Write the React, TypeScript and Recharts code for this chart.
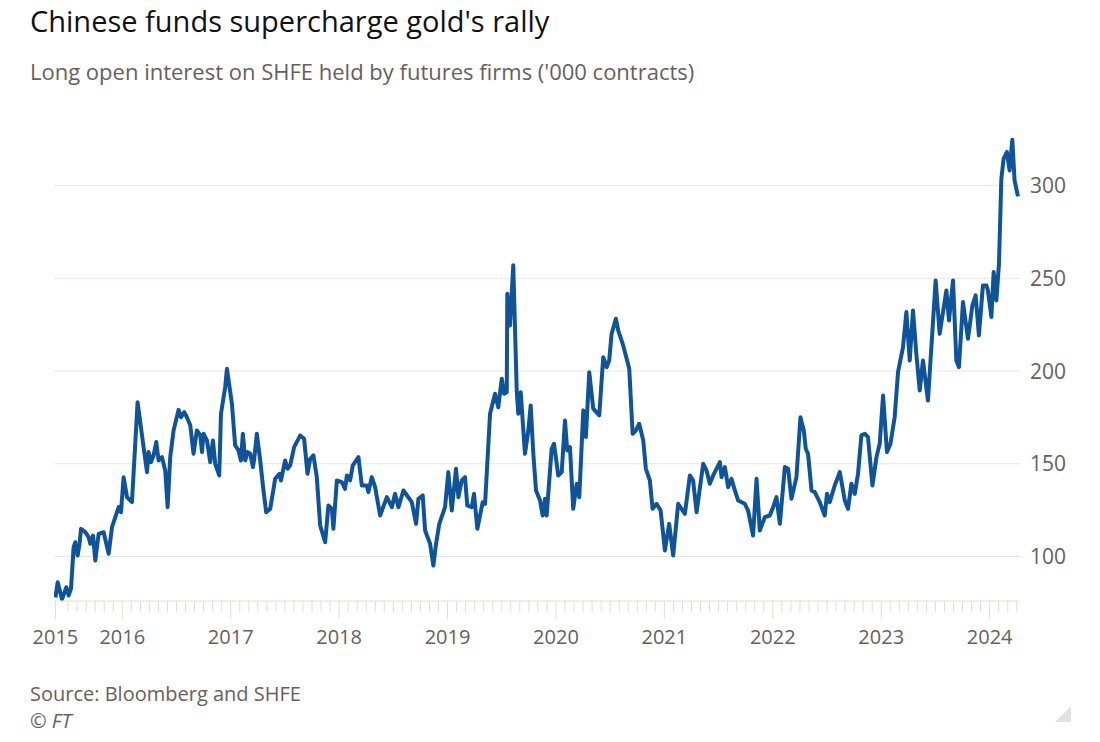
import { Line, LineChart, ReferenceLine, XAxis, YAxis } from "recharts";

// decimal years
const dates = [
  2015.383, 2015.404, 2015.444, 2015.484, 2015.505, 2015.527, 2015.551, 2015.567, 2015.588, 2015.606,
  2015.619, 2015.659, 2015.689, 2015.705, 2015.73, 2015.751, 2015.782, 2015.828, 2015.874, 2015.905,
  2015.966, 2015.988, 2016.012, 2016.043, 2016.089, 2016.141, 2016.196, 2016.228, 2016.242, 2016.265,
  2016.288, 2016.313, 2016.335, 2016.366, 2016.396, 2016.418, 2016.442, 2016.473, 2016.519, 2016.541,
  2016.571, 2016.596, 2016.627, 2016.657, 2016.688, 2016.719, 2016.735, 2016.749, 2016.781, 2016.811,
  2016.836, 2016.857, 2016.894, 2016.91, 2016.949, 2016.965, 2017.011, 2017.041, 2017.072, 2017.094,
  2017.112, 2017.134, 2017.155, 2017.18, 2017.205, 2017.217, 2017.241, 2017.272, 2017.302, 2017.327,
  2017.364, 2017.41, 2017.45, 2017.463, 2017.502, 2017.524, 2017.548, 2017.585, 2017.641, 2017.677,
  2017.708, 2017.733, 2017.763, 2017.794, 2017.825, 2017.871, 2017.901, 2017.933, 2017.947, 2017.979,
  2018.025, 2018.055, 2018.071, 2018.101, 2018.126, 2018.178, 2018.209, 2018.255, 2018.27, 2018.301,
  2018.332, 2018.378, 2018.44, 2018.486, 2018.516, 2018.547, 2018.593, 2018.67, 2018.71, 2018.731,
  2018.771, 2018.793, 2018.839, 2018.869, 2018.894, 2018.924, 2018.977, 2019.007, 2019.039, 2019.078,
  2019.1, 2019.131, 2019.161, 2019.182, 2019.223, 2019.244, 2019.275, 2019.324, 2019.346, 2019.392,
  2019.438, 2019.468, 2019.5, 2019.521, 2019.546, 2019.551, 2019.576, 2019.606, 2019.638, 2019.652,
  2019.675, 2019.714, 2019.745, 2019.767, 2019.791, 2019.816, 2019.853, 2019.877, 2019.899, 2019.914,
  2019.96, 2019.982, 2020.021, 2020.053, 2020.083, 2020.104, 2020.129, 2020.159, 2020.191, 2020.215,
  2020.252, 2020.276, 2020.307, 2020.344, 2020.399, 2020.436, 2020.467, 2020.491, 2020.513, 2020.553,
  2020.574, 2020.62, 2020.676, 2020.707, 2020.737, 2020.768, 2020.805, 2020.829, 2020.866, 2020.891,
  2020.928, 2020.965, 2021.005, 2021.044, 2021.081, 2021.127, 2021.189, 2021.235, 2021.265, 2021.297,
  2021.358, 2021.389, 2021.419, 2021.45, 2021.512, 2021.527, 2021.558, 2021.588, 2021.619, 2021.65,
  2021.68, 2021.742, 2021.772, 2021.818, 2021.85, 2021.88, 2021.926, 2021.972, 2022.003, 2022.034,
  2022.065, 2022.111, 2022.141, 2022.172, 2022.218, 2022.255, 2022.286, 2022.304, 2022.325, 2022.357,
  2022.387, 2022.433, 2022.479, 2022.5, 2022.525, 2022.571, 2022.618, 2022.664, 2022.694, 2022.725,
  2022.756, 2022.786, 2022.817, 2022.848, 2022.878, 2022.919, 2022.956, 2022.986, 2023.017, 2023.053,
  2023.085, 2023.124, 2023.155, 2023.201, 2023.232, 2023.263, 2023.293, 2023.324, 2023.355, 2023.385,
  2023.431, 2023.502, 2023.539, 2023.601, 2023.625, 2023.662, 2023.693, 2023.717, 2023.754, 2023.8,
  2023.841, 2023.871, 2023.901, 2023.938, 2023.97, 2023.984, 2024.016, 2024.037, 2024.062, 2024.086,
  2024.108, 2024.129, 2024.159, 2024.184, 2024.209, 2024.23, 2024.261,
];

// long open interest, '000 contracts
const values = [
  77.9, 86.1, 77.0, 83.4, 79.0, 82.7, 105.0, 107.7, 100.5, 107.0,
  114.9, 113.1, 110.4, 106.9, 111.3, 97.8, 112.2, 113.1, 101.5, 115.8,
  126.6, 123.9, 142.8, 132.0, 129.3, 183.2, 159.0, 145.5, 156.3, 150.9,
  154.5, 161.7, 151.8, 153.6, 146.4, 126.6, 153.6, 168.0, 179.1, 175.1,
  177.8, 175.1, 170.7, 155.4, 168.0, 165.3, 156.3, 166.2, 162.6, 150.9,
  162.6, 150.0, 143.7, 177.0, 191.3, 201.2, 182.4, 159.9, 157.2, 151.8,
  166.2, 151.8, 156.3, 155.4, 148.2, 152.7, 166.2, 151.8, 135.6, 123.9,
  125.7, 141.9, 144.6, 141.0, 151.8, 147.3, 149.1, 159.0, 165.3, 163.5,
  144.6, 152.7, 154.5, 142.8, 116.7, 107.7, 127.5, 125.7, 114.9, 141.0,
  140.1, 136.5, 143.7, 141.0, 149.1, 153.6, 138.3, 138.3, 134.7, 142.8,
  137.4, 122.1, 132.0, 126.6, 133.8, 126.6, 135.6, 129.3, 117.6, 131.1,
  132.9, 114.0, 106.9, 95.1, 106.9, 117.6, 126.6, 145.5, 124.8, 147.3,
  132.0, 141.0, 142.8, 127.5, 126.6, 133.8, 114.9, 129.3, 128.4, 177.0,
  187.8, 180.5, 195.9, 187.8, 188.6, 241.7, 224.6, 257.0, 189.5, 177.0,
  188.6, 155.4, 168.0, 181.4, 155.4, 135.6, 130.2, 122.1, 131.1, 122.1,
  158.1, 160.8, 143.7, 145.5, 173.4, 157.2, 159.0, 125.7, 139.2, 132.0,
  178.8, 164.4, 199.4, 179.7, 176.1, 207.5, 202.1, 205.7, 220.1, 228.2,
  221.9, 213.8, 201.2, 166.2, 168.0, 171.6, 162.6, 147.3, 141.0, 125.7,
  128.4, 124.8, 103.2, 117.6, 100.5, 128.4, 123.0, 143.7, 141.0, 123.9,
  150.0, 146.4, 139.2, 143.7, 150.9, 142.8, 148.2, 137.4, 141.9, 135.6,
  130.2, 128.4, 124.8, 111.3, 141.9, 114.0, 121.2, 122.1, 126.6, 132.0,
  117.6, 148.2, 147.3, 131.1, 142.8, 175.1, 168.0, 158.1, 155.4, 135.6,
  134.7, 129.3, 122.1, 133.8, 129.3, 138.3, 145.5, 130.2, 125.7, 139.2,
  133.8, 144.6, 165.3, 166.2, 164.4, 138.3, 153.6, 160.8, 186.8, 156.3,
  160.8, 175.1, 199.4, 212.9, 231.8, 205.7, 232.7, 209.3, 189.5, 205.7,
  184.1, 248.9, 220.1, 243.5, 227.3, 248.9, 205.7, 202.1, 237.2, 217.4,
  235.4, 240.8, 219.2, 246.2, 246.2, 243.5, 229.1, 253.4, 238.1, 257.9,
  303.7, 314.5, 318.1, 308.2, 324.8, 302.8, 294.2,
];

const yearLabels = ["2015", "2016", "2017", "2018", "2019", "2020", "2021", "2022", "2023", "2024"];
const yTicks = [100, 150, 200, 250, 300];

const data = dates.map((t, i) => ({ t, v: values[i] }));

const X_MIN = 2015.37;
const X_MAX = 2024.28;

// first tick sits on the first data point, then one per month
const monthTicks: number[] = [dates[0]];
for (let y = 2015; y <= 2024; y++) {
  for (let m = 0; m < 12; m++) {
    const t = y + m / 12;
    if (t > dates[0] + 0.05 && t <= X_MAX) monthTicks.push(t);
  }
}

const GREY = "#66605c";
const FONT = "'Open Sans', sans-serif";

const XTick = (props: any) => {
  const { x, y, payload } = props;
  const v = payload.value as number;
  let label: string | null = null;
  if (v === dates[0]) label = yearLabels[0];
  else if (Math.abs(v - Math.round(v)) < 1e-6) label = String(Math.round(v));
  const major = label !== null;
  return (
    <g>
      <line x1={x} x2={x} y1={y} y2={y + (major ? 18 : 11)} stroke="#e2dcd6" strokeWidth={1} />
      {label && (
        <text x={x} y={y + 43} textAnchor="middle" fill={GREY} fontSize={20} fontFamily={FONT}>
          {label}
        </text>
      )}
    </g>
  );
};

export default function App() {
  return (
    <div style={{ position: "absolute", left: 0, top: 0, width: 1100, height: 742, background: "#fff", fontFamily: FONT }}>
      <div style={{ position: "absolute", left: 30, top: 6, fontSize: 29, lineHeight: 1, color: "#111" }}>
        Chinese funds supercharge gold's rally
      </div>
      <div style={{ position: "absolute", left: 30, top: 60, fontSize: 22, lineHeight: 1, color: GREY }}>
        Long open interest on SHFE held by futures firms ('000 contracts)
      </div>
      <LineChart
        width={1100}
        height={742}
        data={data}
        margin={{ top: 130, right: 20, bottom: 101, left: 54 }}
        style={{ position: "absolute", left: 0, top: 0 }}
      >
        <XAxis
          dataKey="t"
          type="number"
          domain={[X_MIN, X_MAX]}
          ticks={monthTicks}
          interval={0}
          tickSize={0}
          tickMargin={0}
          height={40}
          tickLine={false}
          axisLine={{ stroke: "#e2dcd6" }}
          tick={<XTick />}
          allowDataOverflow
        />
        <YAxis
          orientation="right"
          domain={[76, 330]}
          ticks={yTicks}
          width={60}
          axisLine={false}
          tickLine={false}
          tickSize={0}
          tickMargin={10}
          allowDataOverflow
          tick={{ fill: GREY, fontSize: 21, fontFamily: FONT, textAnchor: "start" }}
        />
        {yTicks.map((v) => (
          <ReferenceLine key={v} y={v} stroke="#ebe6e1" strokeWidth={1} />
        ))}
        <Line
          type="linear"
          dataKey="v"
          stroke="#0f5499"
          strokeWidth={4}
          strokeLinejoin="round"
          dot={false}
          activeDot={false}
          isAnimationActive={false}
        />
      </LineChart>
      <div style={{ position: "absolute", left: 30, top: 684, fontSize: 20, lineHeight: 1, color: GREY }}>
        Source: Bloomberg and SHFE
      </div>
      <div style={{ position: "absolute", left: 30, top: 711, fontSize: 20, lineHeight: 1, color: GREY, fontStyle: "italic" }}>
        © FT
      </div>
      <svg width={16} height={16} style={{ position: "absolute", left: 1055, top: 706 }}>
        <polygon points="16,0 16,16 0,16" fill="#e4e1de" />
      </svg>
    </div>
  );
}
